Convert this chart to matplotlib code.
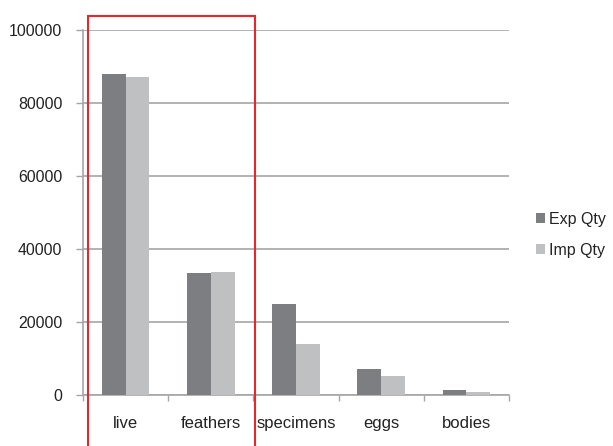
import matplotlib
matplotlib.use("Agg")
import matplotlib.pyplot as plt
import matplotlib.patches as mpatches
import numpy as np

categories = ["live", "feathers", "specimens", "eggs", "bodies"]
exp_qty = [88000, 33300, 25000, 7000, 1300]
imp_qty = [87000, 33700, 13900, 5200, 900]
series_names = ["Exp Qty", "Imp Qty"]
yticks = [0, 20000, 40000, 60000, 80000, 100000]

plt.rcParams["font.family"] = ["Liberation Sans", "DejaVu Sans"]

W, H = 613, 446
fig = plt.figure(figsize=(W / 100, H / 100), dpi=100)
ax = fig.add_axes([83 / W, 1 - 395 / H, (509 - 83) / W, (395 - 30) / H])

x = np.arange(len(categories))
bw = 0.28
ax.bar(x - bw / 2, exp_qty, bw, color="#7d7e82", label=series_names[0], zorder=3)
ax.bar(x + bw / 2, imp_qty, bw, color="#bfc0c2", label=series_names[1], zorder=3)

ax.set_xlim(-0.5, len(categories) - 0.5)
ax.set_ylim(0, 100000)
ax.set_yticks(yticks)
ax.set_yticklabels([str(v) for v in yticks], fontsize=11.4, color="#222222")
ax.yaxis.grid(True, color="#a6a6a6", linewidth=1.2, zorder=0)
ax.set_axisbelow(True)

ax.set_xticks(np.arange(len(categories) + 1) - 0.5)
ax.set_xticklabels([])
ax.set_xticks(x, minor=True)
ax.set_xticklabels(categories, minor=True, fontsize=12, color="#222222")
ax.tick_params(axis="x", which="minor", length=0, pad=15)
ax.tick_params(axis="x", which="major", length=4, width=1, color="#a6a6a6", direction="out")
ax.tick_params(axis="y", length=5, width=1, color="#a6a6a6", pad=10)

for side in ["top", "right"]:
    ax.spines[side].set_visible(False)
for side in ["left", "bottom"]:
    ax.spines[side].set_color("#a6a6a6")
    ax.spines[side].set_linewidth(1.2)

leg = fig.legend(loc="upper left", bbox_to_anchor=(523 / W, 1 - 199 / H),
                 frameon=False, fontsize=11.5, handlelength=0.55, handleheight=0.55,
                 handletextpad=0.3, labelspacing=1.0, borderpad=0.3)
for t in leg.get_texts():
    t.set_color("#222222")

# highlight box around the first two categories
rect = mpatches.Rectangle((88 / W, -0.05), (255 - 88) / W, (1 - 15.5 / H) + 0.05,
                          transform=fig.transFigure, fill=False,
                          edgecolor="#e8262b", linewidth=1.5, clip_on=False)
fig.patches.append(rect)

fig.savefig("out.png", dpi=100)
